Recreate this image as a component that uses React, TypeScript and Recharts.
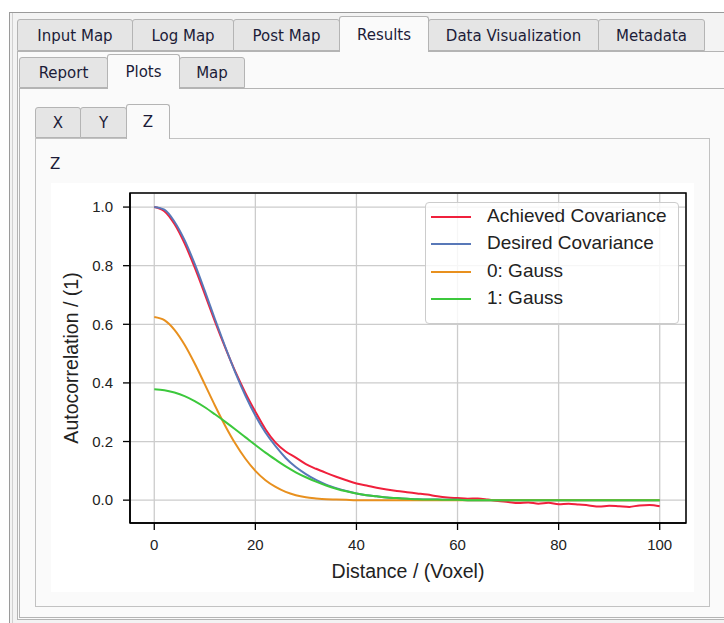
import React from 'react';
import { LineChart, Line, XAxis, YAxis, CartesianGrid, ReferenceArea, Legend } from 'recharts';

// ---------- data ----------
const distance = [0, 2, 4, 6, 8, 10, 12, 14, 16, 18, 20, 22, 24, 26, 28, 30, 32, 34, 36, 38, 40, 42, 44, 46, 48, 50, 52, 54, 56, 58, 60, 62, 64, 66, 68, 70, 72, 74, 76, 78, 80, 82, 84, 86, 88, 90, 92, 94, 96, 98, 100];

const achievedCovariance = [1.0, 0.986, 0.942, 0.876, 0.794, 0.703, 0.61, 0.522, 0.44, 0.367, 0.302, 0.242, 0.196, 0.166, 0.145, 0.123, 0.107, 0.093, 0.08, 0.068, 0.057, 0.05, 0.042, 0.036, 0.031, 0.027, 0.023, 0.019, 0.013, 0.009, 0.007, 0.005, 0.006, 0.002, -0.003, -0.006, -0.01, -0.008, -0.012, -0.009, -0.014, -0.012, -0.015, -0.018, -0.022, -0.019, -0.021, -0.023, -0.018, -0.017, -0.021];

const desiredCovariance = [1.0, 0.991, 0.95, 0.887, 0.806, 0.714, 0.618, 0.525, 0.437, 0.358, 0.289, 0.231, 0.184, 0.144, 0.113, 0.089, 0.069, 0.053, 0.041, 0.031, 0.023, 0.017, 0.013, 0.009, 0.007, 0.005, 0.003, 0.002, 0.002, 0.001, 0.001, 0, 0, 0, 0, 0, 0, 0, 0, 0, 0, 0, 0, 0, 0, 0, 0, 0, 0, 0, 0];

const gauss0 = [0.625, 0.614, 0.581, 0.53, 0.466, 0.395, 0.323, 0.255, 0.194, 0.142, 0.1, 0.068, 0.045, 0.028, 0.017, 0.01, 0.006, 0.003, 0.002, 0.001, 0, 0, 0, 0, 0, 0, 0, 0, 0, 0, 0, 0, 0, 0, 0, 0, 0, 0, 0, 0, 0, 0, 0, 0, 0, 0, 0, 0, 0, 0, 0];

const gauss1 = [0.378, 0.375, 0.367, 0.355, 0.338, 0.317, 0.293, 0.268, 0.242, 0.215, 0.188, 0.162, 0.138, 0.115, 0.095, 0.078, 0.063, 0.05, 0.039, 0.03, 0.023, 0.017, 0.013, 0.009, 0.007, 0.005, 0.003, 0.002, 0.002, 0.001, 0.001, 0, 0, 0, 0, 0, 0, 0, 0, 0, 0, 0, 0, 0, 0, 0, 0, 0, 0, 0, 0];

const seriesKeys = ['achieved', 'desired', 'g0', 'g1'];
const seriesNames = ['Achieved Covariance', 'Desired Covariance', '0: Gauss', '1: Gauss'];
const seriesColors = ['#f0203c', '#5878b8', '#e8901e', '#3cc83c'];

const xTicks = [0, 20, 40, 60, 80, 100];
const yTicks = [0, 0.2, 0.4, 0.6, 0.8, 1.0];

const topTabs = ['Input Map', 'Log Map', 'Post Map', 'Results', 'Data Visualization', 'Metadata'];
const subTabs = ['Report', 'Plots', 'Map'];
const axisTabs = ['X', 'Y', 'Z'];

const rows = distance.map((d, i) => ({
  d,
  achieved: achievedCovariance[i],
  desired: desiredCovariance[i],
  g0: gauss0[i],
  g1: gauss1[i],
}));

// ---------- GUI helpers ----------
const GUI_FONT = "'DejaVu Sans', sans-serif";
const PLOT_FONT = "'Liberation Sans', Arial, sans-serif";
const PANE_BG = '#fafafa';
const TAB_BG = '#e5e5e5';
const BORDER = '#b4b4b4';

type TabProps = { label: string; left: number; right: number; top: number; bottom: number; selected?: boolean };

function Tab({ label, left, right, top, bottom, selected }: TabProps) {
  return (
    <div
      style={{
        position: 'absolute',
        left,
        top,
        width: right - left + 1,
        height: bottom - top + (selected ? 1 : 0),
        boxSizing: 'border-box',
        background: selected ? PANE_BG : TAB_BG,
        border: `1px solid ${BORDER}`,
        borderBottom: selected ? 'none' : `1px solid ${BORDER}`,
        borderRadius: '3px 3px 0 0',
        display: 'flex',
        alignItems: 'center',
        justifyContent: 'center',
        fontFamily: GUI_FONT,
        fontSize: 15,
        color: '#1c1c38',
        zIndex: selected ? 3 : 2,
        paddingTop: selected ? 0 : 1,
      }}
    >
      {label}
    </div>
  );
}

const topTabEdges = [17, 132, 233, 339, 428, 598, 704];
const subTabEdges = [19, 107, 179, 244];
const axisTabEdges = [35, 80, 126, 169];

function LegendBox() {
  return (
    <div
      style={{
        width: 254,
        height: 122,
        boxSizing: 'border-box',
        background: 'rgba(255,255,255,0.82)',
        border: '1px solid #cccccc',
        borderRadius: 4,
        position: 'relative',
        fontFamily: PLOT_FONT,
      }}
    >
      {seriesNames.map((name, i) => (
        <div key={name} style={{ position: 'absolute', left: 0, top: 14 + i * 27.4, width: '100%' }}>
          <div style={{ position: 'absolute', left: 5, top: -1, width: 40, height: 2, background: seriesColors[i] }} />
          <div
            style={{
              position: 'absolute',
              left: 61,
              top: -12,
              fontSize: 19,
              lineHeight: '22px',
              color: '#222',
              whiteSpace: 'nowrap',
            }}
          >
            {name}
          </div>
        </div>
      ))}
    </div>
  );
}

export default function App() {
  return (
    <div style={{ position: 'absolute', left: 0, top: 0, width: 724, height: 623, background: '#ffffff', overflow: 'hidden' }}>
      {/* outer frame */}
      <div style={{ position: 'absolute', left: 9, top: 12, width: 730, height: 620, boxSizing: 'border-box', border: '1px solid #9a9a9a', background: '#f3f3f3' }} />
      <div style={{ position: 'absolute', left: 12, top: 13, width: 1, height: 620, background: '#d0d0d0' }} />

      {/* row 1 pane */}
      <div style={{ position: 'absolute', left: 17, top: 51, width: 720, height: 569, boxSizing: 'border-box', border: `1px solid ${BORDER}`, background: PANE_BG, zIndex: 1 }} />
      {topTabs.map((t, i) => (
        <Tab key={t} label={t} left={topTabEdges[i]} right={topTabEdges[i + 1]} top={t === 'Results' ? 16 : 19} bottom={51} selected={t === 'Results'} />
      ))}

      {/* row 2 pane */}
      <div style={{ position: 'absolute', left: 19, top: 88, width: 720, height: 530, boxSizing: 'border-box', border: `1px solid ${BORDER}`, background: PANE_BG, zIndex: 1 }} />
      {subTabs.map((t, i) => (
        <Tab key={t} label={t} left={subTabEdges[i]} right={subTabEdges[i + 1]} top={t === 'Plots' ? 54 : 57} bottom={88} selected={t === 'Plots'} />
      ))}

      {/* row 3 pane (group) */}
      <div style={{ position: 'absolute', left: 35, top: 138, width: 675, height: 469, boxSizing: 'border-box', border: '1px solid #c2c2c2', background: PANE_BG, zIndex: 1 }} />
      {axisTabs.map((t, i) => (
        <Tab key={t} label={t} left={axisTabEdges[i]} right={axisTabEdges[i + 1]} top={t === 'Z' ? 104 : 107} bottom={138} selected={t === 'Z'} />
      ))}

      <div style={{ position: 'absolute', left: 50, top: 155, fontFamily: GUI_FONT, fontSize: 15, color: '#1c1c38', zIndex: 2 }}>Z</div>

      {/* figure */}
      <div style={{ position: 'absolute', left: 51, top: 183, width: 643, height: 409, background: '#ffffff', zIndex: 2 }}>
        <LineChart width={643} height={409} data={rows} margin={{ top: 10, right: 8, left: 0, bottom: 0 }}>
          <CartesianGrid stroke="#cccccc" strokeWidth={1.3} horizontal vertical />
          <XAxis
            dataKey="d"
            type="number"
            domain={[-4.8, 105.2]}
            ticks={xTicks}
            interval={0}
            height={69}
            tickSize={7}
            tickMargin={9}
            axisLine={{ stroke: '#000', strokeWidth: 1.5 }}
            tickLine={{ stroke: '#000', strokeWidth: 1.3 }}
            tick={{ fill: '#222', fontSize: 15, fontFamily: PLOT_FONT }}
            label={{ value: 'Distance / (Voxel)', position: 'insideBottom', offset: 14, fill: '#222', fontSize: 19.5, fontFamily: PLOT_FONT }}
          />
          <YAxis
            type="number"
            domain={[-0.078, 1.048]}
            ticks={yTicks}
            interval={0}
            width={79}
            tickSize={7}
            tickMargin={10}
            tickFormatter={(v: number) => v.toFixed(1)}
            axisLine={{ stroke: '#000', strokeWidth: 1.5 }}
            tickLine={{ stroke: '#000', strokeWidth: 1.3 }}
            tick={{ fill: '#222', fontSize: 15, fontFamily: PLOT_FONT }}
            label={{ value: 'Autocorrelation / (1)', angle: -90, position: 'insideLeft', offset: 20, fill: '#222', fontSize: 19.5, fontFamily: PLOT_FONT, style: { textAnchor: 'middle' } }}
          />
          <ReferenceArea x1={-4.8} x2={105.2} y1={-0.078} y2={1.048} fill="none" stroke="#000" strokeWidth={1.5} ifOverflow="visible" />
          {seriesKeys.map((k, i) => (
            <Line
              key={k}
              dataKey={k}
              name={seriesNames[i]}
              stroke={seriesColors[i]}
              strokeWidth={2}
              dot={false}
              activeDot={false}
              type="monotone"
              isAnimationActive={false}
            />
          ))}
          <Legend
            layout="vertical"
            align="center"
            verticalAlign="middle"
            content={() => <LegendBox />}
            wrapperStyle={{ left: 374, top: 19, width: 254, height: 122, right: 'auto', bottom: 'auto' }}
          />
        </LineChart>
      </div>
    </div>
  );
}
